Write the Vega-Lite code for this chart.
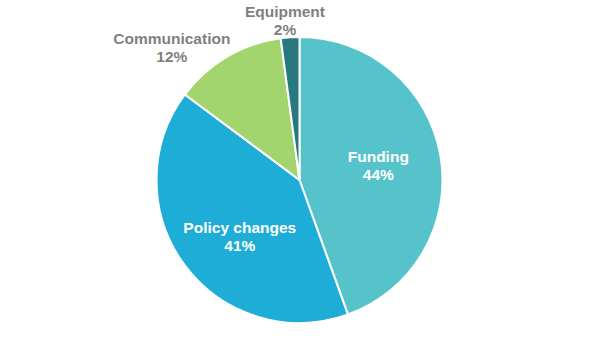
{
  "$schema": "https://vega.github.io/schema/vega-lite/v6.json",
  "autosize": "none",
  "padding": 0,
  "width": 599,
  "height": 360,
  "background": "white",
  "config": {"view": {"stroke": null}},
  "data": {"values": [
    {"category": "Funding", "value": 44.5, "label": "Funding\n44%", "order": 1},
    {"category": "Policy changes", "value": 40.7, "label": "Policy changes\n41%", "order": 2},
    {"category": "Communication", "value": 12.7, "label": "Communication\n12%", "order": 3},
    {"category": "Equipment", "value": 2.1, "label": "Equipment\n2%", "order": 4}
  ]},
  "encoding": {
    "theta": {"field": "value", "type": "quantitative", "stack": true},
    "order": {"field": "order", "type": "quantitative"}
  },
  "layer": [
    {
      "mark": {"type": "arc", "outerRadius": 143, "stroke": "white", "strokeWidth": 2},
      "encoding": {
        "color": {
          "field": "category", "type": "nominal",
          "scale": {"domain": ["Funding", "Policy changes", "Communication", "Equipment"],
                    "range": ["#56C3CA", "#1EADD6", "#A3D56E", "#27787F"]},
          "legend": null
        }
      }
    },
    {
      "mark": {"type": "text", "radius": 80, "dy": -9, "fill": "white", "font": "Liberation Sans", "fontWeight": "bold", "fontSize": 15.5, "lineBreak": "\n", "lineHeight": 18, "baseline": "middle", "align": "center"},
      "encoding": {"text": {"condition": {"test": "datum.category == 'Funding'", "field": "label"}, "value": ""}}
    },
    {
      "mark": {"type": "text", "radius": 83, "dy": -10, "thetaOffset": -0.13, "fill": "white", "font": "Liberation Sans", "fontWeight": "bold", "fontSize": 15.5, "lineBreak": "\n", "lineHeight": 18, "baseline": "middle", "align": "center"},
      "encoding": {"text": {"condition": {"test": "datum.category == 'Policy changes'", "field": "label"}, "value": ""}}
    },
    {
      "mark": {"type": "text", "radius": 184, "dy": -9, "thetaOffset": -0.236, "fill": "#7F7F7F", "font": "Liberation Sans", "fontWeight": "bold", "fontSize": 15.5, "lineBreak": "\n", "lineHeight": 18, "baseline": "middle", "align": "center"},
      "encoding": {"text": {"condition": {"test": "datum.category == 'Communication'", "field": "label"}, "value": ""}}
    },
    {
      "mark": {"type": "text", "radius": 160, "dy": -9, "thetaOffset": -0.025, "fill": "#7F7F7F", "font": "Liberation Sans", "fontWeight": "bold", "fontSize": 15.5, "lineBreak": "\n", "lineHeight": 18, "baseline": "middle", "align": "center"},
      "encoding": {"text": {"condition": {"test": "datum.category == 'Equipment'", "field": "label"}, "value": ""}}
    }
  ]
}
